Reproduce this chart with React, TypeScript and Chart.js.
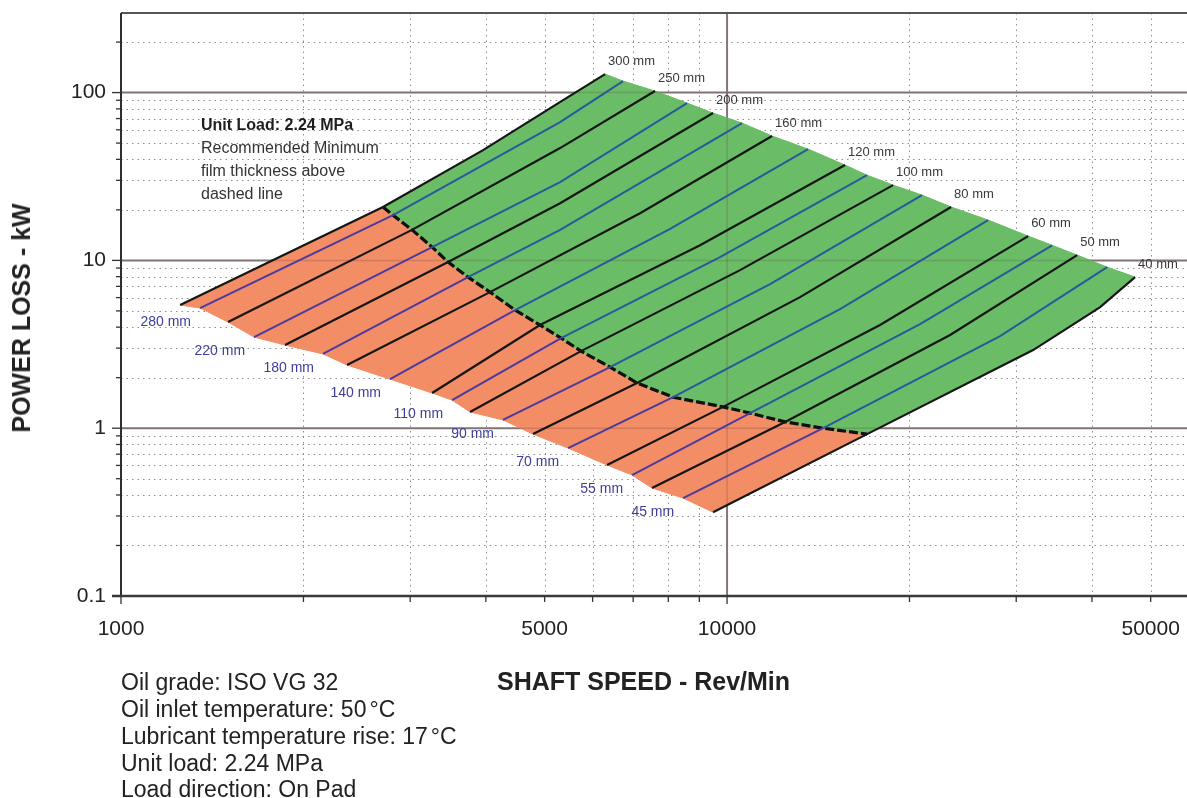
import React, { useEffect, useRef } from "react";
import { Chart, registerables } from "chart.js";

Chart.register(...registerables);

type Pt = [number, number];

// ---------- axes ----------
const X_MIN = 1000;
const X_MAX = 57400;
const Y_MIN = 0.1;
const Y_MAX = 298;

const X_TICK_LABELS = [1000, 5000, 10000, 50000];
const Y_TICK_LABELS = [0.1, 1, 10, 100];
const X_MAJOR_GRID = [10000];
const Y_MAJOR_GRID = [1, 10, 100];
const X_MINOR_GRID = [2000, 3000, 4000, 5000, 6000, 7000, 8000, 9000, 20000, 30000, 40000, 50000];
const Y_MINOR_GRID = [
  0.2, 0.3, 0.4, 0.5, 0.6, 0.7, 0.8, 0.9,
  2, 3, 4, 5, 6, 7, 8, 9,
  20, 30, 40, 50, 60, 70, 80, 90,
  200,
];

// ---------- bearing diameter curves (shaft speed rpm, power loss kW) ----------
const DIAMETERS = [300, 280, 250, 220, 200, 180, 160, 140, 120, 110, 100, 90, 80, 70, 60, 55, 50, 45, 40];

const L300: Pt[] = [[1252, 5.42], [2706, 20.8], [3957, 45.4], [5364, 90.2], [6291, 128.9]];
const L280: Pt[] = [[1350, 5.2], [2811, 18.6], [5303, 66.7], [6736, 117.1]];
const L250: Pt[] = [[1502, 4.29], [3021, 15.2], [5303, 46.7], [7605, 102.1]];
const L220: Pt[] = [[1658, 3.49], [3261, 12.0], [5303, 29.3], [8590, 86.6]];
const L200: Pt[] = [[1865, 3.13], [3465, 9.77], [5303, 21.9], [9482, 75.5]];
const L180: Pt[] = [[2154, 2.77], [3738, 7.95], [5303, 15.2], [10587, 65.8]];
const L160: Pt[] = [[2360, 2.38], [4063, 6.47], [7185, 19.1], [11866, 55.1]];
const L140: Pt[] = [[2779, 1.96], [4469, 5.06], [8055, 15.4], [13604, 46.05]];
const L120: Pt[] = [[3261, 1.62], [4913, 4.12], [9025, 12.3], [15657, 37.0]];
const L110: Pt[] = [[3518, 1.47], [5323, 3.44], [9737, 10.46], [17022, 32.2]];
const L100: Pt[] = [[3766, 1.25], [5742, 2.88], [10506, 8.75], [18790, 28.1]];
const L90: Pt[] = [[4269, 1.12], [6412, 2.31], [11776, 7.22], [20978, 24.5]];
const L80: Pt[] = [[4784, 0.922], [7104, 1.86], [13198, 6.04], [23425, 20.8]];
const L70: Pt[] = [[5466, 0.761], [8148, 1.53], [15362, 5.13], [26963, 17.4]];
const L60: Pt[] = [[6339, 0.603], [9849, 1.34], [17882, 4.12], [31389, 13.96]];
const L55: Pt[] = [[6970, 0.526], [10914, 1.23], [20820, 4.17], [34391, 12.3]];
const L50: Pt[] = [[7519, 0.44], [12467, 1.09], [23336, 3.59], [37818, 10.75]];
const L45: Pt[] = [[8464, 0.383], [14403, 1.0], [28217, 3.54], [42382, 9.12]];
const L40: Pt[] = [[9482, 0.316], [17022, 0.922], [31990, 2.92], [41270, 5.27], [47130, 7.95]];

// recommended minimum film thickness (dashed boundary)
const DASHED: Pt[] = [
  [2706, 20.8], [2811, 18.6], [3021, 15.2], [3261, 12.0], [3465, 9.77], [3738, 7.95],
  [4063, 6.47], [4469, 5.06], [4913, 4.12], [5323, 3.44], [5742, 2.88], [6412, 2.31],
  [7104, 1.86], [8148, 1.53], [9849, 1.34], [10914, 1.23], [12467, 1.09], [14403, 1.0],
  [17022, 0.922],
];

const LINES: Pt[][] = [
  L300, L280, L250, L220, L200, L180, L160, L140, L120, L110,
  L100, L90, L80, L70, L60, L55, L50, L45, L40,
];

const NOTES = [
  "Oil grade: ISO VG 32",
  "Oil inlet temperature: 50",
  "Lubricant temperature rise: 17",
  "Unit load: 2.24 MPa",
  "Load direction: On Pad",
];

// ---------- styles ----------
const FONT = '"Liberation Sans", Arial, Helvetica, sans-serif';
const GREEN = "#6abd66";
const ORANGE = "#f28d66";
const BLACK = "#161616";
const BLUE_ON_GREEN = "#2a589c";
const BLUE_ON_ORANGE = "#4d3a9e";

function greenOutline(): Pt[] {
  const last = LINES[LINES.length - 1];
  return [
    ...L300.slice(1),
    ...LINES.slice(1).map((l) => l[l.length - 1]),
    ...last.slice(1, -1).reverse(),
    ...DASHED.slice().reverse(),
  ];
}

function orangeOutline(): Pt[] {
  const last = LINES[LINES.length - 1];
  return [L300[0], ...DASHED, last[0], ...LINES.slice(1, -1).reverse().map((l) => l[0])];
}

function seg(ctx: CanvasRenderingContext2D, x1: number, y1: number, x2: number, y2: number) {
  ctx.beginPath();
  ctx.moveTo(x1, y1);
  ctx.lineTo(x2, y2);
  ctx.stroke();
}

const drawPlugin = {
  id: "bearingDraw",
  beforeDatasetsDraw(chart: any) {
    const { ctx, chartArea: a } = chart;
    const xs = chart.scales.x;
    const ys = chart.scales.y;
    const toPx = (p: Pt): Pt => [xs.getPixelForValue(p[0]), ys.getPixelForValue(p[1])];
    ctx.save();
    // minor dotted grid
    ctx.lineWidth = 1;
    ctx.strokeStyle = "#8e8e8e";
    ctx.setLineDash([1.5, 4]);
    X_MINOR_GRID.forEach((v) => {
      const p = Math.round(xs.getPixelForValue(v)) + 0.5;
      seg(ctx, p, a.top, p, a.bottom);
    });
    Y_MINOR_GRID.forEach((v) => {
      const p = Math.round(ys.getPixelForValue(v)) + 0.5;
      seg(ctx, a.left, p, a.right, p);
    });
    ctx.setLineDash([]);
    // major grid
    const drawMajor = () => {
      X_MAJOR_GRID.forEach((v) => {
        const p = xs.getPixelForValue(v);
        seg(ctx, p, a.top, p, a.bottom);
      });
      Y_MAJOR_GRID.forEach((v) => {
        const p = ys.getPixelForValue(v);
        seg(ctx, a.left, p, a.right, p);
      });
    };
    ctx.strokeStyle = "#8d8383";
    ctx.lineWidth = 2;
    drawMajor();
    // region fills
    const fillPoly = (pts: Pt[], color: string) => {
      ctx.beginPath();
      pts.forEach((p, i) => {
        const [x, y] = toPx(p);
        if (i === 0) ctx.moveTo(x, y);
        else ctx.lineTo(x, y);
      });
      ctx.closePath();
      ctx.fillStyle = color;
      ctx.fill();
      ctx.strokeStyle = color;
      ctx.lineWidth = 1;
      ctx.stroke();
    };
    fillPoly(orangeOutline(), ORANGE);
    fillPoly(greenOutline(), GREEN);
    // faint major grid over fills
    ctx.strokeStyle = "rgba(80,50,50,0.2)";
    ctx.lineWidth = 1.5;
    drawMajor();
    ctx.restore();
  },
  afterDatasetsDraw(chart: any) {
    const { ctx, chartArea: a } = chart;
    const xs = chart.scales.x;
    const ys = chart.scales.y;
    const toPx = (p: Pt): Pt => [xs.getPixelForValue(p[0]), ys.getPixelForValue(p[1])];
    ctx.save();
    // axis lines
    ctx.strokeStyle = "#555";
    ctx.lineWidth = 2;
    seg(ctx, a.left, a.top, a.right, a.top);
    ctx.strokeStyle = "#2e2e2e";
    ctx.lineWidth = 2;
    seg(ctx, a.left, a.top, a.left, a.bottom + 1);
    ctx.strokeStyle = "#3a3a3a";
    ctx.lineWidth = 2.5;
    seg(ctx, a.left - 9, a.bottom, a.right, a.bottom);
    // tick marks
    ctx.lineWidth = 1.3;
    ctx.strokeStyle = "#333";
    Y_MINOR_GRID.forEach((v) => {
      const p = ys.getPixelForValue(v);
      seg(ctx, a.left - 5, p, a.left, p);
    });
    Y_TICK_LABELS.forEach((v) => {
      const p = ys.getPixelForValue(v);
      seg(ctx, a.left - 9, p, a.left, p);
    });
    X_MINOR_GRID.forEach((v) => {
      const p = xs.getPixelForValue(v);
      seg(ctx, p, a.bottom, p, a.bottom + 6);
    });
    [X_MIN, ...X_MAJOR_GRID].forEach((v) => {
      const p = xs.getPixelForValue(v);
      seg(ctx, p, a.bottom, p, a.bottom + 8);
    });
    // diameter labels
    ctx.textBaseline = "middle";
    LINES.forEach((l, i) => {
      const text = `${DIAMETERS[i]} mm`;
      if (i % 2 === 0) {
        const [x, y] = toPx(l[l.length - 1]);
        ctx.font = `13px ${FONT}`;
        ctx.fillStyle = "#383838";
        ctx.textAlign = "left";
        ctx.fillText(text, x + 3, y - 13);
      } else {
        const [x, y] = toPx(l[0]);
        ctx.font = `14px ${FONT}`;
        ctx.fillStyle = "#3d3d9e";
        ctx.textAlign = "right";
        ctx.fillText(text, x - 9, y + 14);
      }
    });
    ctx.restore();
  },
};

function TextLine(props: {
  x: number;
  cy: number;
  size: number;
  bold?: boolean;
  color?: string;
  children: React.ReactNode;
}) {
  const lh = Math.round(props.size * 1.2);
  return (
    <div
      style={{
        position: "absolute",
        left: props.x,
        top: props.cy - lh / 2,
        height: lh,
        lineHeight: `${lh}px`,
        fontSize: props.size,
        fontFamily: FONT,
        fontWeight: props.bold ? 700 : 400,
        color: props.color || "#222",
        whiteSpace: "nowrap",
      }}
    >
      {props.children}
    </div>
  );
}

const zeroPad = (s: any) => {
  s.paddingLeft = 0;
  s.paddingRight = 0;
  s.paddingTop = 0;
  s.paddingBottom = 0;
};

export default function App() {
  const ref = useRef<HTMLCanvasElement>(null);

  useEffect(() => {
    const canvas = ref.current;
    if (!canvas) return;
    const datasets: any[] = LINES.map((l, i) => {
      const isBlue = i % 2 === 1;
      const ds: any = {
        label: `${DIAMETERS[i]} mm`,
        data: l.map(([x, y]) => ({ x, y })),
        showLine: true,
        borderColor: isBlue ? BLUE_ON_GREEN : BLACK,
        borderWidth: isBlue ? 2 : 2.2,
        pointRadius: 0,
        pointHoverRadius: 0,
        tension: 0,
      };
      if (isBlue) {
        ds.segment = {
          borderColor: (c: any) => (c.p0DataIndex === 0 ? BLUE_ON_ORANGE : BLUE_ON_GREEN),
        };
      }
      return ds;
    });
    datasets.push({
      label: "Recommended minimum film thickness",
      data: DASHED.map(([x, y]) => ({ x, y })),
      showLine: true,
      borderColor: "#111",
      borderWidth: 3.2,
      borderDash: [9, 3],
      pointRadius: 0,
      pointHoverRadius: 0,
      tension: 0,
    });

    const chart = new Chart(canvas, {
      type: "scatter",
      data: { datasets },
      options: {
        responsive: false,
        animation: false,
        devicePixelRatio: 1,
        events: [],
        layout: { padding: { top: 13, right: 0, left: 0, bottom: 0 } },
        plugins: { legend: { display: false }, tooltip: { enabled: false } },
        scales: {
          x: {
            type: "logarithmic",
            min: X_MIN,
            max: X_MAX,
            afterFit: (s: any) => {
              s.height = 202;
              zeroPad(s);
            },
            afterBuildTicks: (s: any) => {
              s.ticks = X_TICK_LABELS.map((v) => ({ value: v }));
            },
            ticks: {
              autoSkip: false,
              maxRotation: 0,
              minRotation: 0,
              padding: 21,
              color: "#222",
              font: { family: FONT, size: 21 },
              callback: (v: any) => String(v),
            },
            grid: { display: false, drawTicks: false, tickLength: 0 },
            border: { display: false },
          },
          y: {
            type: "logarithmic",
            min: Y_MIN,
            max: Y_MAX,
            afterFit: (s: any) => {
              s.width = 121;
              zeroPad(s);
            },
            afterBuildTicks: (s: any) => {
              s.ticks = Y_TICK_LABELS.map((v) => ({ value: v }));
            },
            ticks: {
              autoSkip: false,
              padding: 15,
              color: "#222",
              font: { family: FONT, size: 21 },
              callback: (v: any) => String(v),
            },
            grid: { display: false, drawTicks: false, tickLength: 0 },
            border: { display: false },
          },
        },
      } as any,
      plugins: [drawPlugin as any],
    });
    return () => chart.destroy();
  }, []);

  const noteYs = [682, 709, 736, 763, 789];

  return (
    <div style={{ position: "absolute", left: 0, top: 0, width: 1187, height: 798, background: "#fff", overflow: "hidden" }}>
      <canvas ref={ref} width={1187} height={798} style={{ position: "absolute", left: 0, top: 0, width: 1187, height: 798 }} />
      <div
        style={{
          position: "absolute",
          left: 21,
          top: 318,
          transform: "translate(-50%, -50%) rotate(-90deg)",
          fontFamily: FONT,
          fontWeight: 700,
          fontSize: 25,
          lineHeight: "30px",
          color: "#222",
          whiteSpace: "nowrap",
        }}
      >
        POWER LOSS - kW
      </div>
      <TextLine x={497} cy={681} size={25} bold>
        SHAFT SPEED - Rev/Min
      </TextLine>
      {NOTES.map((n, i) => (
        <TextLine key={n} x={121} cy={noteYs[i]} size={23}>
          {n}
          {i === 1 || i === 2 ? (
            <>
              <span style={{ marginLeft: 3 }}>°</span>C
            </>
          ) : null}
        </TextLine>
      ))}
      <TextLine x={201} cy={124} size={16} bold color="#1e1e1e">
        Unit Load: 2.24 MPa
      </TextLine>
      <TextLine x={201} cy={147} size={16} color="#333">
        Recommended Minimum
      </TextLine>
      <TextLine x={201} cy={170} size={16} color="#333">
        film thickness above
      </TextLine>
      <TextLine x={201} cy={193} size={16} color="#333">
        dashed line
      </TextLine>
    </div>
  );
}
